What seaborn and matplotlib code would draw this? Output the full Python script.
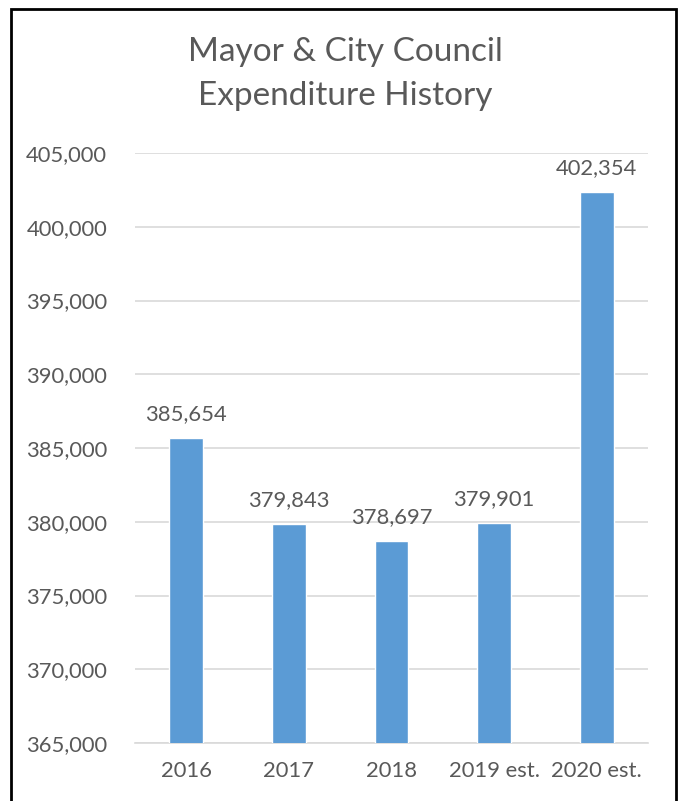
import matplotlib
matplotlib.use("Agg")
import matplotlib.pyplot as plt
import seaborn as sns
import pandas as pd
from matplotlib.patches import Rectangle
from matplotlib.ticker import FuncFormatter

years = ["2016", "2017", "2018", "2019 est.", "2020 est."]
expenditure = [385654, 379843, 378697, 379901, 402354]
y_ticks = [365000, 370000, 375000, 380000, 385000, 390000, 395000, 400000, 405000]

sns.set_theme(style="white")
plt.rcParams["font.family"] = ["Lato", "DejaVu Sans"]

text_gray = "#595959"
bar_blue = "#5B9BD5"
grid_gray = "#D9D9D9"

df = pd.DataFrame({"year": years, "value": expenditure})

fig = plt.figure(figsize=(6.85, 8.01), dpi=100)
ax = fig.add_axes([135 / 685, 1 - 743 / 801, (648 - 135) / 685, (743 - 153) / 801])

sns.barplot(data=df, x="year", y="value", color=bar_blue, width=0.33,
            saturation=1, ax=ax, zorder=3)

ax.set_ylim(365000, 405000)
ax.set_xlim(-0.5, 4.5)
ax.set_yticks(y_ticks)
ax.yaxis.set_major_formatter(FuncFormatter(lambda v, p: f"{int(v):,}"))
ax.grid(axis="y", color=grid_gray, linewidth=1.2, zorder=0)
ax.set_axisbelow(True)
for s in ["top", "right", "left"]:
    ax.spines[s].set_visible(False)
ax.spines["bottom"].set_color(grid_gray)
ax.spines["bottom"].set_linewidth(1.2)
ax.set_xlabel("")
ax.set_ylabel("")
ax.tick_params(axis="both", length=0, labelsize=15.8, colors=text_gray)
ax.tick_params(axis="y", pad=20)
ax.tick_params(axis="x", pad=13)

for i, v in enumerate(expenditure):
    ax.annotate(f"{v:,}", (i, v), xytext=(0, 10), textcoords="offset points",
                ha="center", va="bottom", fontsize=15.8, color=text_gray)

fig.text(345 / 685, 1 - 74 / 801, "Mayor & City Council\nExpenditure History",
         ha="center", va="center", fontsize=24, color=text_gray, linespacing=1.6)

fig.add_artist(Rectangle((11 / 685, -0.1), (676 - 11) / 685, 1 - 9 / 801 + 0.1,
                         transform=fig.transFigure, fill=False,
                         edgecolor="black", linewidth=2))

fig.savefig("out.png", dpi=100, facecolor="white")
